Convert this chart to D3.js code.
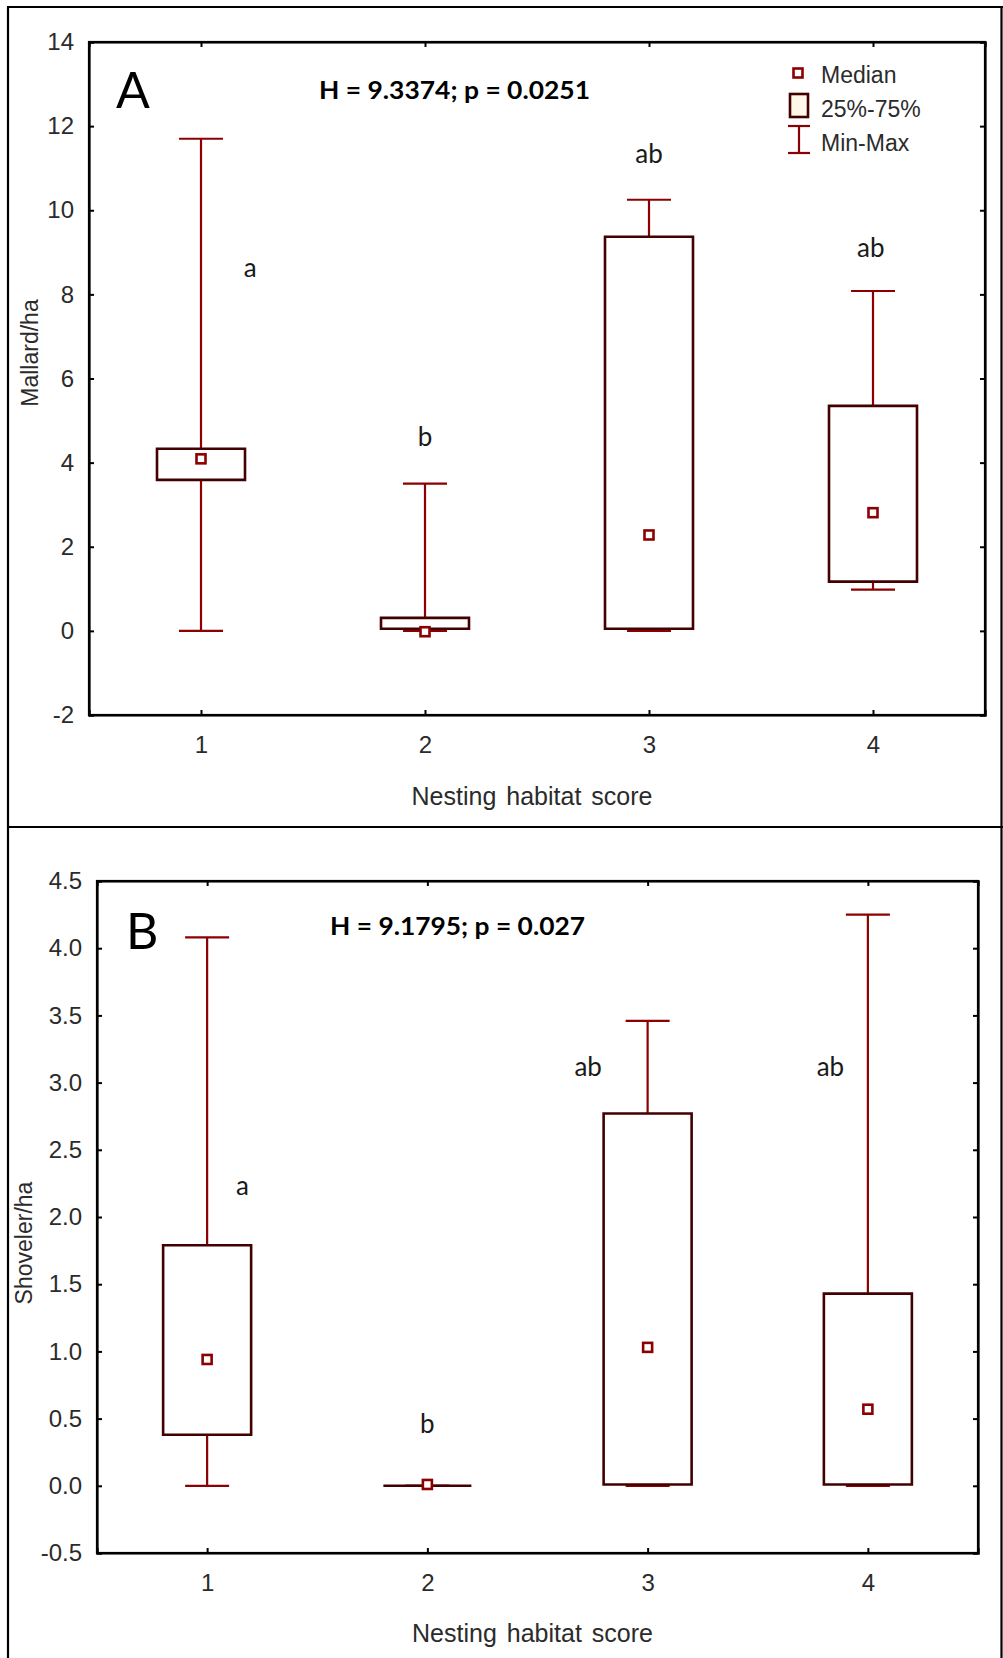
<!DOCTYPE html>
<html>
<head>
<meta charset="utf-8">
<script src="https://cdn.jsdelivr.net/npm/d3@7"></script>
<style>
  html, body { margin: 0; padding: 0; background: #fff; }
  svg { display: block; }
</style>
</head>
<body>
<svg id="chart" width="1003" height="1658"></svg>
<script>
// ---------- DATA ----------
const categories = [1, 2, 3, 4];

// Panel A: Mallard/ha
const mallardMin    = [0.00, 0.00, 0.00, 0.98];
const mallardQ1     = [3.59, 0.05, 0.05, 1.17];
const mallardMedian = [4.09, -0.02, 2.28, 2.81];
const mallardQ3     = [4.33, 0.31, 9.37, 5.35];
const mallardMax    = [11.70, 3.50, 10.25, 8.08];
const mallardLetters = ["a", "b", "ab", "ab"];
const mallardLetterX = [1.22, 2.00, 3.00, 3.99];
const mallardLetterY = [8.42, 4.40, 11.13, 8.89];
const mallardYTicks = [-2, 0, 2, 4, 6, 8, 10, 12, 14];
const mallardStat = "H = 9.3374; p = 0.0251";

// Panel B: Shoveler/ha
const shovelerMin    = [0.00, 0.00, 0.00, 0.00];
const shovelerQ1     = [0.38, 0.00, 0.01, 0.01];
const shovelerMedian = [0.94, 0.01, 1.03, 0.57];
const shovelerQ3     = [1.79, 0.00, 2.77, 1.43];
const shovelerMax    = [4.08, 0.00, 3.46, 4.25];
const shovelerLetters = ["a", "b", "ab", "ab"];
const shovelerLetterX = [1.16, 2.00, 2.73, 3.83];
const shovelerLetterY = [2.16, 0.39, 3.05, 3.05];
const shovelerYTicks = [-0.5, 0.0, 0.5, 1.0, 1.5, 2.0, 2.5, 3.0, 3.5, 4.0, 4.5];
const shovelerStat = "H = 9.1795; p = 0.027";

const xTickLabels = ["1", "2", "3", "4"];
const xTitle = "Nesting habitat score";
const legendLabels = ["Median", "25%-75%", "Min-Max"];

// ---------- STYLE ----------
const WHISKER = "#8b0000";
const BOXC = "#420000";
const TXT = "#2b2b2b";
const SANS = "Arial, 'Liberation Sans', sans-serif";
const CAL = "Lato, 'Open Sans', sans-serif";

const svg = d3.select("#chart");
svg.append("rect").attr("width", 1003).attr("height", 1658).attr("fill", "#fff");

// outer frame
const frame = svg.append("g").attr("stroke", "#000").attr("stroke-width", 2.2).attr("fill", "none");
frame.append("line").attr("x1", 8).attr("x2", 8).attr("y1", 7).attr("y2", 1658);
frame.append("line").attr("x1", 1001.5).attr("x2", 1001.5).attr("y1", 7).attr("y2", 1658);
frame.append("line").attr("x1", 7).attr("x2", 1003).attr("y1", 7).attr("y2", 7);
frame.append("line").attr("x1", 7).attr("x2", 1003).attr("y1", 827).attr("y2", 827);

const hyphen = f => d => f(d).replace("\u2212", "-");

function panel(cfg) {
  const g = svg.append("g");
  const x = d3.scaleLinear().domain([0.5, 4.5]).range([cfg.left, cfg.right]);
  const y = d3.scaleLinear().domain(cfg.yDomain).range([cfg.bottom, cfg.top]);

  const yl = g.append("g").attr("transform", `translate(${cfg.left},0)`)
    .call(d3.axisLeft(y).tickValues(cfg.yTicks).tickFormat(hyphen(cfg.fmt)).tickSize(-5).tickPadding(15));
  const yr = g.append("g").attr("transform", `translate(${cfg.right},0)`)
    .call(d3.axisRight(y).tickValues(cfg.yTicks).tickFormat("").tickSize(-5));
  const xb = g.append("g").attr("transform", `translate(0,${cfg.bottom})`)
    .call(d3.axisBottom(x).tickValues(categories).tickFormat((d, i) => xTickLabels[i]).tickSize(-5).tickPadding(21));
  const xt = g.append("g").attr("transform", `translate(0,${cfg.top})`)
    .call(d3.axisTop(x).tickValues(categories).tickFormat("").tickSize(-5));
  [yl, yr, xb, xt].forEach(a => {
    a.attr("font-family", SANS).attr("font-size", 24);
    a.select(".domain").attr("stroke", "#000").attr("stroke-width", 2.2);
    a.selectAll(".tick line").attr("stroke", "#000").attr("stroke-width", 2);
    a.selectAll(".tick text").attr("fill", TXT);
  });
  g.append("rect").attr("x", cfg.left).attr("y", cfg.top)
    .attr("width", cfg.right - cfg.left).attr("height", cfg.bottom - cfg.top)
    .attr("fill", "none").attr("stroke", "#000").attr("stroke-width", 2.2);

  const cap = 22, half = 44;
  const data = categories.map((c, i) => ({
    c, min: cfg.min[i], q1: cfg.q1[i], med: cfg.med[i], q3: cfg.q3[i], max: cfg.max[i]
  }));
  const grp = g.append("g").selectAll("g").data(data).join("g");
  grp.append("line").attr("x1", d => x(d.c)).attr("x2", d => x(d.c))
    .attr("y1", d => y(d.min)).attr("y2", d => y(d.max))
    .attr("stroke", WHISKER).attr("stroke-width", 2.2);
  grp.append("line").attr("x1", d => x(d.c) - cap).attr("x2", d => x(d.c) + cap)
    .attr("y1", d => y(d.max)).attr("y2", d => y(d.max))
    .attr("stroke", WHISKER).attr("stroke-width", 2.2);
  grp.append("line").attr("x1", d => x(d.c) - cap).attr("x2", d => x(d.c) + cap)
    .attr("y1", d => y(d.min)).attr("y2", d => y(d.min))
    .attr("stroke", WHISKER).attr("stroke-width", 2.2);
  grp.append("path")
    .attr("d", d => {
      const x0 = x(d.c) - half, x1 = x(d.c) + half, y0 = y(d.q3), y1 = y(d.q1);
      return `M${x0},${y0}H${x1}V${y1}H${x0}Z`;
    })
    .attr("fill", "#fff").attr("stroke", BOXC).attr("stroke-width", 2.6)
    .attr("stroke-linejoin", "miter").attr("stroke-linecap", "square");
  grp.append("rect").attr("x", d => x(d.c) - 4.5).attr("y", d => y(d.med) - 4.5)
    .attr("width", 9).attr("height", 9)
    .attr("fill", "#fff").attr("stroke", WHISKER).attr("stroke-width", 2.6);

  g.append("g").selectAll("text").data(cfg.letters).join("text")
    .attr("x", (d, i) => x(cfg.letterX[i])).attr("y", (d, i) => y(cfg.letterY[i]))
    .attr("text-anchor", "middle").attr("font-family", CAL).attr("font-size", 26)
    .attr("fill", "#1a1a1a").text(d => d);

  g.append("text").attr("x", cfg.labelX).attr("y", cfg.labelY)
    .attr("font-family", CAL).attr("font-size", 50).attr("fill", "#000").text(cfg.label);
  g.append("text").attr("x", cfg.statX).attr("y", cfg.statY)
    .attr("font-family", CAL).attr("font-weight", "bold").attr("font-size", 24)
    .attr("textLength", cfg.statW).attr("lengthAdjust", "spacingAndGlyphs")
    .attr("fill", "#000").text(cfg.stat);

  g.append("text").attr("transform", `translate(${cfg.yTitleX},${cfg.yTitleY}) rotate(-90)`)
    .attr("text-anchor", "middle").attr("font-family", SANS).attr("font-size", 23)
    .attr("fill", TXT).text(cfg.yTitle);
  g.append("text").attr("x", (cfg.left + cfg.right) / 2 - 5).attr("y", cfg.xTitleY)
    .attr("text-anchor", "middle").attr("font-family", SANS).attr("font-size", 25)
    .attr("word-spacing", 3).attr("fill", TXT).text(xTitle);
  return { g, x, y };
}

panel({
  left: 89, right: 985, top: 42, bottom: 715, yDomain: [-2, 14], yTicks: mallardYTicks,
  fmt: d3.format("d"),
  min: mallardMin, q1: mallardQ1, med: mallardMedian, q3: mallardQ3, max: mallardMax,
  letters: mallardLetters, letterX: mallardLetterX, letterY: mallardLetterY,
  label: "A", labelX: 116, labelY: 108, stat: mallardStat, statX: 319, statY: 99, statW: 271,
  yTitle: "Mallard/ha", yTitleX: 38, yTitleY: 353, xTitleY: 805
});

panel({
  left: 97, right: 978, top: 881, bottom: 1553, yDomain: [-0.5, 4.5], yTicks: shovelerYTicks,
  fmt: d3.format(".1f"),
  min: shovelerMin, q1: shovelerQ1, med: shovelerMedian, q3: shovelerQ3, max: shovelerMax,
  letters: shovelerLetters, letterX: shovelerLetterX, letterY: shovelerLetterY,
  label: "B", labelX: 126, labelY: 949, stat: shovelerStat, statX: 330, statY: 935, statW: 255,
  yTitle: "Shoveler/ha", yTitleX: 32, yTitleY: 1243, xTitleY: 1642
});

// legend (panel A)
const lg = svg.append("g");
lg.append("rect").attr("x", 793.5).attr("y", 68.5).attr("width", 9).attr("height", 9)
  .attr("fill", "#fff").attr("stroke", WHISKER).attr("stroke-width", 2.6);
lg.append("rect").attr("x", 790).attr("y", 94).attr("width", 18).attr("height", 23)
  .attr("fill", "#fff8ea").attr("stroke", BOXC).attr("stroke-width", 2.6);
lg.append("line").attr("x1", 799).attr("x2", 799).attr("y1", 126).attr("y2", 153)
  .attr("stroke", WHISKER).attr("stroke-width", 2.2);
lg.append("line").attr("x1", 788).attr("x2", 810).attr("y1", 126).attr("y2", 126)
  .attr("stroke", WHISKER).attr("stroke-width", 2.2);
lg.append("line").attr("x1", 788).attr("x2", 810).attr("y1", 153).attr("y2", 153)
  .attr("stroke", WHISKER).attr("stroke-width", 2.2);
lg.selectAll("text").data(legendLabels).join("text")
  .attr("x", 821).attr("y", (d, i) => [83, 117, 151][i])
  .attr("font-family", SANS).attr("font-size", 23).attr("fill", TXT).text(d => d);
</script>
</body>
</html>
